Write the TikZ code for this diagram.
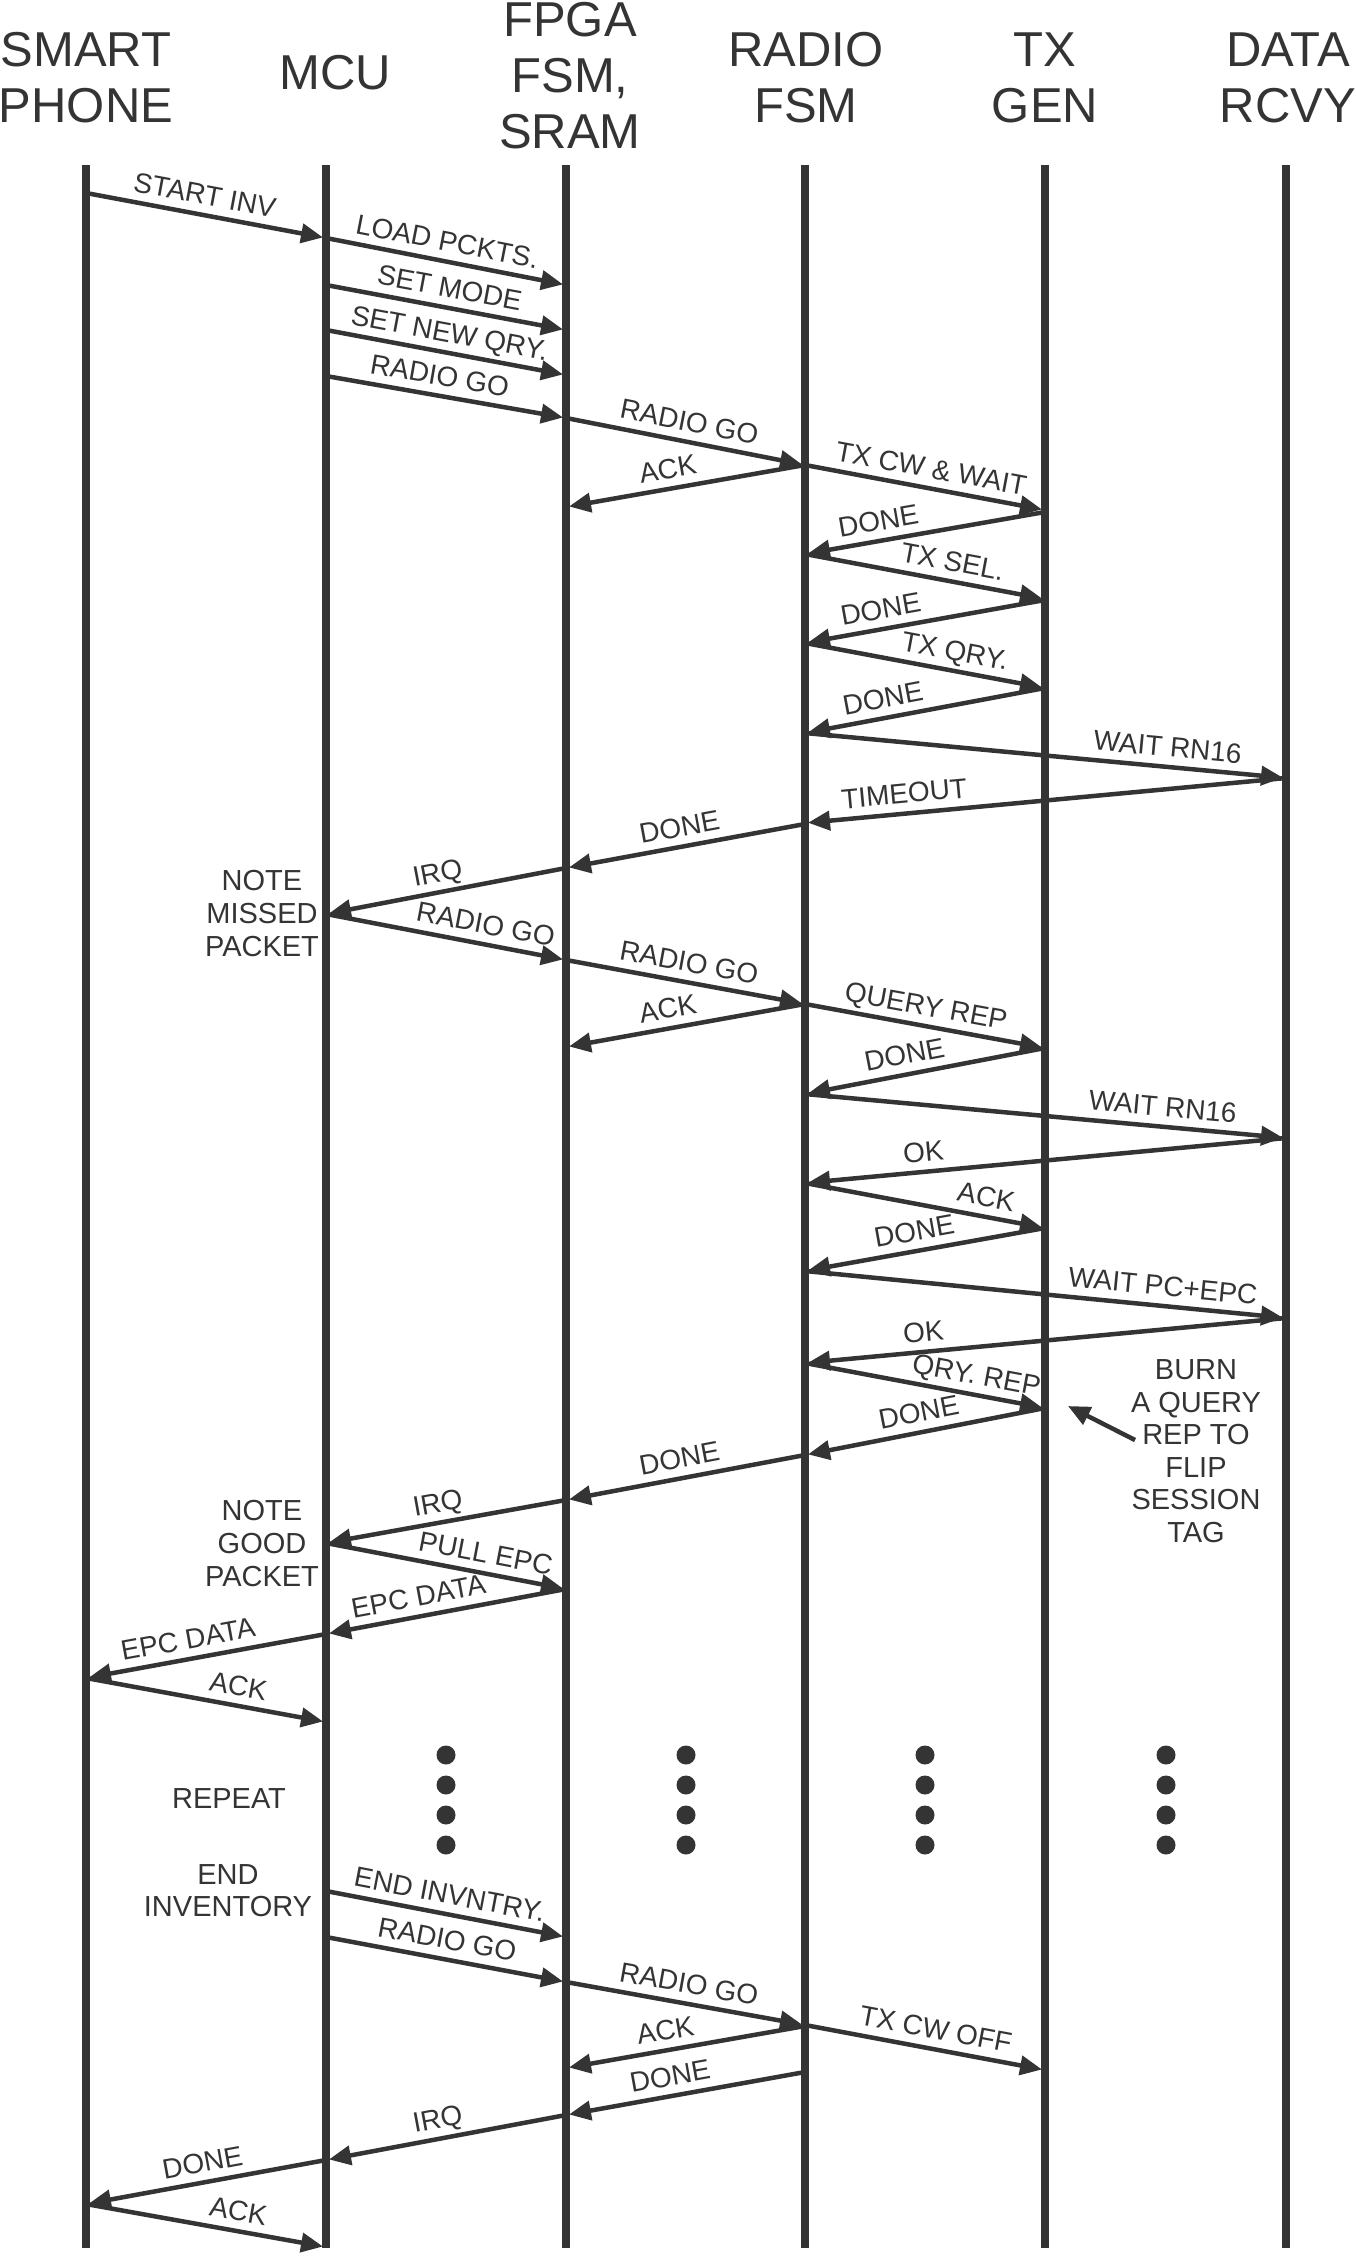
\documentclass[tikz,border=0pt]{standalone}
\usepackage{fontspec}
\setmainfont{Liberation Sans}
\usetikzlibrary{arrows.meta,calc}
\definecolor{ink}{RGB}{52,52,52}

% one message: source lifeline, source y, target lifeline, target y, label position, label
\newcounter{msgno}
\newcommand\msg[6]{%
  \stepcounter{msgno}%
  \coordinate (s\arabic{msgno}) at ($(#1)+(0,#2)$);
  \coordinate (e\arabic{msgno}) at ($(#3)+(0,#4)$);
  \draw[message] (s\arabic{msgno}) -- node[msglabel,pos=#5] (t\arabic{msgno}) {#6} (e\arabic{msgno});
}

\begin{document}
\begin{tikzpicture}[x=1pt,y=-1pt,
  lifeline/.style={draw=ink, line width=8pt},
  message/.style={draw=ink, line width=4.5pt, -{Triangle[length=22pt,width=19pt]}, shorten >=3pt},
  msglabel/.style={sloped, anchor=south, inner xsep=0pt, inner ysep=8pt, text depth=0pt,
    text=ink, font=\fontsize{28}{32}\selectfont},
  hdr/.style={anchor=base, inner sep=0pt, text=ink, font=\fontsize{49}{56}\selectfont},
  note/.style={anchor=base, inner sep=0pt, text=ink, font=\fontsize{29}{33}\selectfont},
  dot/.style={fill=ink}]

\useasboundingbox (0,0) rectangle (1356,2258);

% lifeline positions
\coordinate (sp) at (86,0);
\coordinate (mcu) at (326,0);
\coordinate (fpga) at (566,0);
\coordinate (radio) at (805,0);
\coordinate (tx) at (1045,0);
\coordinate (data) at (1286,0);

% column headings
\node[hdr] (hsp1) at (86,67) {SMART};
\node[hdr] (hsp2) at (86,123) {PHONE};
\node[hdr] (hmcu) at (335,90) {MCU};
\node[hdr] (hfpga1) at (570,37) {FPGA};
\node[hdr] (hfpga2) at (570,93) {FSM,};
\node[hdr] (hfpga3) at (570,149) {SRAM};
\node[hdr] (hradio1) at (806,67) {RADIO};
\node[hdr] (hradio2) at (806,123) {FSM};
\node[hdr] (htx1) at (1045,67) {TX};
\node[hdr] (htx2) at (1045,123) {GEN};
\node[hdr] (hdata1) at (1288,67) {DATA};
\node[hdr] (hdata2) at (1288,123) {RCVY};

% lifelines
\foreach \l in {sp,mcu,fpga,radio,tx,data}{
  \coordinate (\l-top) at ($(\l)+(0,165)$);
  \coordinate (\l-bot) at ($(\l)+(0,2248)$);
  \draw[lifeline] (\l-top) -- (\l-bot);
}

% start of inventory
\msg{sp}{193}{mcu}{238}{.48}{START INV}
\msg{mcu}{238}{fpga}{285}{.49}{LOAD PCKTS.}
\msg{mcu}{285}{fpga}{330}{.5}{SET MODE}
\msg{mcu}{330}{fpga}{375}{.5}{SET NEW QRY.}
\msg{mcu}{376}{fpga}{418}{.46}{RADIO GO}
\msg{fpga}{418}{radio}{465}{.5}{RADIO GO}
\msg{radio}{465}{fpga}{507}{.56}{ACK}
\msg{radio}{465}{tx}{510}{.51}{TX CW \& WAIT}
\msg{tx}{512}{radio}{554}{.68}{DONE}
\msg{radio}{554}{tx}{599}{.6}{TX SEL.}
\msg{tx}{600}{radio}{643}{.67}{DONE}
\msg{radio}{643}{tx}{688}{.61}{TX QRY.}
\msg{tx}{688}{radio}{733}{.66}{DONE}
\msg{radio}{733}{data}{778}{.75}{WAIT RN16}
\msg{data}{778}{radio}{823}{.79}{TIMEOUT}
\msg{radio}{824}{fpga}{868}{.51}{DONE}
\msg{fpga}{868}{mcu}{914}{.52}{IRQ}

% missed packet, second round
\msg{mcu}{914}{fpga}{960}{.65}{RADIO GO}
\msg{fpga}{960}{radio}{1004}{.5}{RADIO GO}
\msg{radio}{1004}{fpga}{1047}{.56}{ACK}
\msg{radio}{1004}{tx}{1048}{.49}{QUERY REP}
\msg{tx}{1048}{radio}{1094}{.57}{DONE}
\msg{radio}{1094}{data}{1138}{.74}{WAIT RN16}
\msg{data}{1138}{radio}{1183}{.75}{OK}
\msg{radio}{1183}{tx}{1228}{.74}{ACK}
\msg{tx}{1228}{radio}{1271}{.53}{DONE}
\msg{radio}{1271}{data}{1318}{.74}{WAIT PC+EPC}
\msg{data}{1318}{radio}{1363}{.75}{OK}
\msg{radio}{1363}{tx}{1408}{.7}{QRY. REP}
\msg{tx}{1408}{radio}{1455}{.51}{DONE}
\msg{radio}{1455}{fpga}{1500}{.51}{DONE}
\msg{fpga}{1500}{mcu}{1543}{.52}{IRQ}
\msg{mcu}{1543}{fpga}{1589}{.65}{PULL EPC}
\msg{fpga}{1589}{mcu}{1634}{.6}{EPC DATA}
\msg{mcu}{1634}{sp}{1678}{.56}{EPC DATA}
\msg{sp}{1678}{mcu}{1722}{.62}{ACK}

% end of inventory
\msg{mcu}{1891}{fpga}{1937}{.5}{END INVNTRY.}
\msg{mcu}{1937}{fpga}{1982}{.49}{RADIO GO}
\msg{fpga}{1982}{radio}{2025}{.5}{RADIO GO}
\msg{radio}{2026}{fpga}{2068}{.57}{ACK}
\msg{radio}{2025}{tx}{2070}{.53}{TX CW OFF}
\msg{radio}{2072}{fpga}{2115}{.55}{DONE}
\msg{fpga}{2115}{mcu}{2160}{.52}{IRQ}
\msg{mcu}{2160}{sp}{2204}{.5}{DONE}
\msg{sp}{2204}{mcu}{2247}{.62}{ACK}

% side notes
\node[note] (nm1) at (262,890) {NOTE};
\node[note] (nm2) at (262,923) {MISSED};
\node[note] (nm3) at (262,956) {PACKET};
\node[note] (ng1) at (262,1520) {NOTE};
\node[note] (ng2) at (262,1553) {GOOD};
\node[note] (ng3) at (262,1586) {PACKET};
\node[note] (nrep) at (229,1808) {REPEAT};
\node[note] (nend1) at (228,1884) {END};
\node[note] (nend2) at (228,1916) {INVENTORY};

\node[note] (nb1) at (1196,1379) {BURN};
\node[note] (nb2) at (1196,1412) {A QUERY};
\node[note] (nb3) at (1196,1444) {REP TO};
\node[note] (nb4) at (1196,1477) {FLIP};
\node[note] (nb5) at (1196,1509) {SESSION};
\node[note] (nb6) at (1196,1542) {TAG};
\coordinate (burn-from) at (1135,1440);
\coordinate (burn-to) at (1068,1406);
\draw[message, shorten >=0pt] (burn-from) -- (burn-to);

% repeat marks
\foreach \c [count=\i] in {446,686,925,1166}{
  \foreach \r [count=\j] in {1755,1785,1815,1845}{
    \fill[dot] (\c,\r) circle[radius=9.5] coordinate (dot-\i-\j);
  }
}
\end{tikzpicture}
\end{document}
